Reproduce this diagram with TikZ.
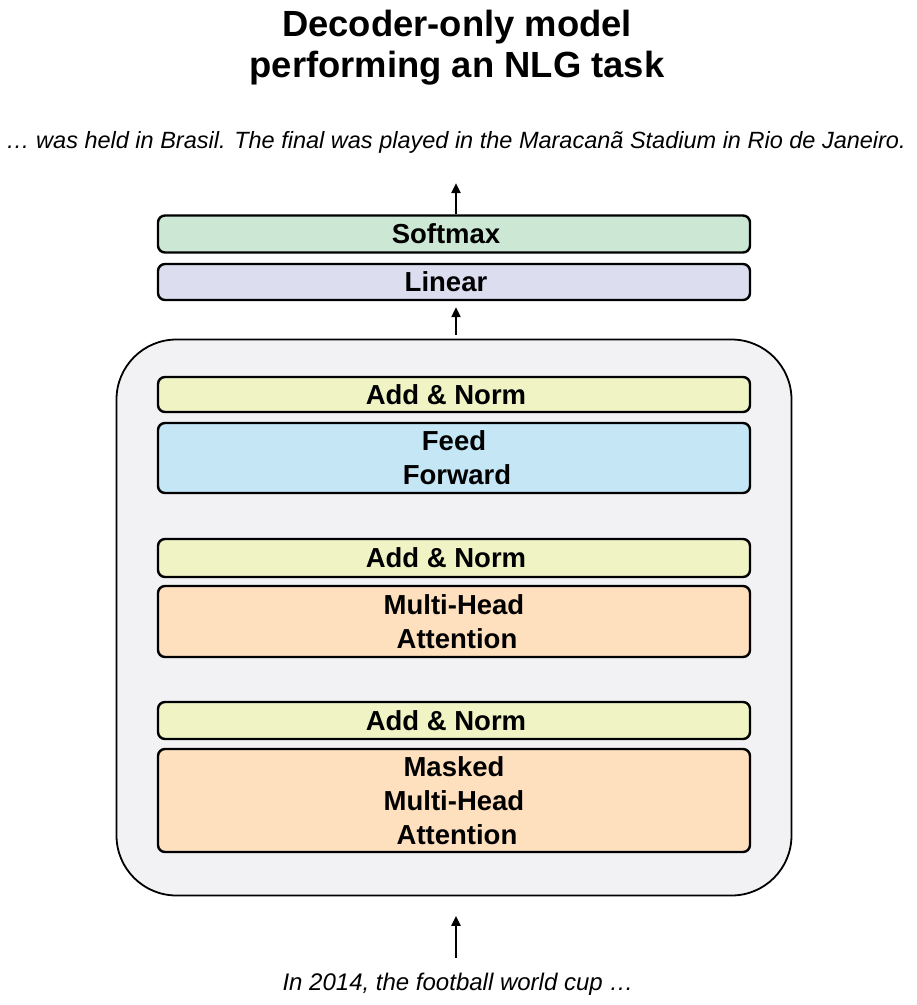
\documentclass[tikz,border=0pt]{standalone}
\usepackage{fontspec}
\setmainfont{Liberation Sans}
\usepackage{xcolor}
\usepackage{tikz}
\usetikzlibrary{arrows.meta}
\definecolor{decgray}{RGB}{242, 242, 245}
\definecolor{smgreen}{RGB}{204, 232, 212}
\definecolor{linblue}{RGB}{220, 222, 240}
\definecolor{normyellow}{RGB}{240, 244, 196}
\definecolor{ffblue}{RGB}{196, 230, 245}
\definecolor{attorange}{RGB}{255, 224, 190}

\begin{document}
\begin{tikzpicture}[x=1pt, y=-1pt,
  layer/.style={draw, line width=2.4pt, rounded corners=7pt, minimum width=592pt,
    inner sep=0pt, align=center, font=\fontsize{27.5}{34}\selectfont\bfseries},
  arr/.style={-{Triangle[length=10pt, width=9pt]}, line width=2.2pt},
  sentence/.style={inner sep=0pt, anchor=base, font=\fontsize{24}{28}\selectfont\itshape}]
\useasboundingbox (0,0) rectangle (917,1005);

% Title
\node[align=center, inner sep=0pt, font=\fontsize{36.4}{41}\selectfont\bfseries] (title) at (457,48)
  {Decoder-only model\\performing an NLG task};

% Generated text
\node[sentence, font=\fontsize{23.5}{28}\selectfont\itshape] (out) at (456,148)
  {\dots{} was held in Brasil. The final was played in the Maracanã Stadium in Rio de Janeiro.};

% Output head
\node[layer, fill=smgreen, minimum height=37pt] (soft) at (454,234) {Softmax\hspace*{16pt}};
\node[layer, fill=linblue, minimum height=36pt] (lin) at (454,282) {Linear\hspace*{16pt}};

% Decoder block
\node[draw, line width=1.8pt, fill=decgray, rounded corners=60pt,
  minimum width=675pt, minimum height=556pt] (dec) at (454,617.5) {};
\node[layer, fill=normyellow, minimum height=35pt] (norm1) at (454,394.5) {Add \& Norm\hspace*{16pt}};
\node[layer, fill=ffblue, minimum height=70pt] (ff) at (454,458) {Feed\\\hspace*{6pt}Forward};
\node[layer, fill=normyellow, minimum height=38pt] (norm2) at (454,558) {Add \& Norm\hspace*{16pt}};
\node[layer, fill=attorange, minimum height=71pt] (mha) at (454,621.5) {Multi-Head\\\hspace*{6pt}Attention};
\node[layer, fill=normyellow, minimum height=37pt] (norm3) at (454,720.5) {Add \& Norm\hspace*{16pt}};
\node[layer, fill=attorange, minimum height=103pt] (mmha) at (454,800.5) {Masked\\Multi-Head\\\hspace*{6pt}Attention};

% Prompt
\node[sentence] (inp) at (458,990) {In 2014, the football world cup \dots};

% Arrows
\draw[arr] ([xshift=2pt, yshift=14.5pt]dec.south |- inp.north) -- ([xshift=2pt, yshift=-19.5pt]dec.south);
\draw[arr] ([xshift=2pt, yshift=4pt]dec.north) -- ([xshift=2pt, yshift=-6pt]lin.south);
\draw[arr] ([xshift=2pt]soft.north) -- ([yshift=-30pt]out.south);
\end{tikzpicture}
\end{document}
